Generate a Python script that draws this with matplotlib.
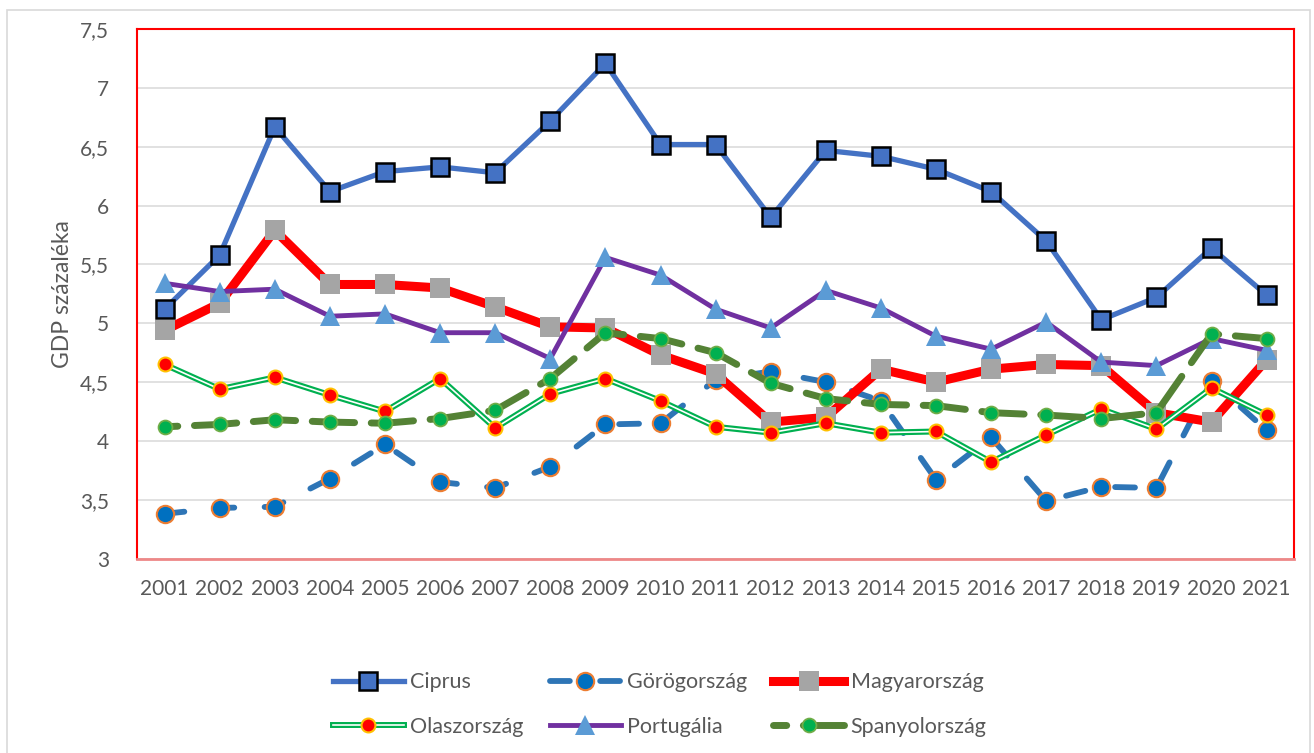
import matplotlib.pyplot as plt
from matplotlib.patches import Rectangle
from matplotlib.legend_handler import HandlerTuple
from matplotlib.ticker import FuncFormatter

plt.rcParams['font.family'] = ['Lato', 'DejaVu Sans']

# data
years = ['2001', '2002', '2003', '2004', '2005', '2006', '2007', '2008', '2009', '2010', '2011',
         '2012', '2013', '2014', '2015', '2016', '2017', '2018', '2019', '2020', '2021']

ciprus = [5.12, 5.58, 6.67, 6.12, 6.29, 6.33, 6.28, 6.72, 7.21, 6.52, 6.52,
          5.90, 6.47, 6.42, 6.31, 6.12, 5.70, 5.03, 5.22, 5.64, 5.24]
gorog = [3.38, 3.43, 3.44, 3.68, 3.97, 3.65, 3.60, 3.78, 4.14, 4.15, 4.52,
         4.59, 4.50, 4.34, 3.67, 4.03, 3.49, 3.61, 3.60, 4.51, 4.09]
magyar = [4.94, 5.17, 5.79, 5.33, 5.33, 5.30, 5.14, 4.97, 4.96, 4.73, 4.57,
          4.16, 4.20, 4.61, 4.50, 4.61, 4.65, 4.64, 4.24, 4.16, 4.69]
olasz = [4.65, 4.44, 4.54, 4.39, 4.25, 4.53, 4.11, 4.40, 4.53, 4.34, 4.12,
         4.07, 4.15, 4.07, 4.08, 3.82, 4.05, 4.27, 4.10, 4.45, 4.22]
portugal = [5.34, 5.27, 5.29, 5.06, 5.08, 4.92, 4.92, 4.70, 5.56, 5.41, 5.12,
            4.96, 5.28, 5.13, 4.89, 4.78, 5.01, 4.67, 4.64, 4.87, 4.77]
spanyol = [4.12, 4.14, 4.18, 4.16, 4.15, 4.19, 4.26, 4.53, 4.92, 4.87, 4.75,
           4.49, 4.36, 4.31, 4.30, 4.24, 4.22, 4.19, 4.24, 4.91, 4.87]

y_ticks = [3, 3.5, 4, 4.5, 5, 5.5, 6, 6.5, 7, 7.5]

x = list(range(len(years)))

fig = plt.figure(figsize=(13.14, 7.53), dpi=100)
ax = fig.add_axes([0.1043, 0.2583, 0.8806, 0.7028])

h1, = ax.plot(x, ciprus, color='#4472C4', lw=3.8, marker='s', ms=12.5,
              mfc='#4472C4', mec='black', mew=1.8, label='Ciprus')
h2, = ax.plot(x, gorog, color='#2E75B6', lw=4.2, dashes=(3.4, 5.2),
              dash_capstyle='round', marker='o', ms=12.5, mfc='#0070C0',
              mec='#ED7D31', mew=1.5, label='Görögország')
h3, = ax.plot(x, magyar, color='#FF0000', lw=6.5, marker='s', ms=15,
              mfc='#A5A5A5', mec='#A5A5A5', mew=0, label='Magyarország')
h4a, = ax.plot(x, olasz, color='#00B050', lw=4.3)
h4b, = ax.plot(x, olasz, color='white', lw=1.2, marker='o', ms=10,
               mfc='#FF0000', mec='#FFC000', mew=1.5)
h5, = ax.plot(x, portugal, color='#7030A0', lw=3.5, marker='^', ms=15,
              mfc='#5B9BD5', mec='#5B9BD5', mew=0, label='Portugália')
h6, = ax.plot(x, spanyol, color='#548235', lw=5, linestyle=(4.2, (6.1, 2.4)),
              dash_capstyle='round', marker='o', ms=10, mfc='#00B050',
              mec='#70AD47', mew=1.3, label='Spanyolország')

ax.set_xlim(-0.5, len(years) - 0.5)
ax.set_ylim(3, 7.5)
ax.set_xticks(x)
ax.set_xticklabels(years)
ax.set_yticks(y_ticks)
ax.yaxis.set_major_formatter(FuncFormatter(lambda v, p: ('%g' % v).replace('.', ',')))
ax.tick_params(axis='both', length=0, labelsize=15, labelcolor='#595959')
ax.tick_params(axis='x', pad=15)
ax.tick_params(axis='y', pad=20)

ax.grid(axis='y', color='#D9D9D9', lw=1.1)
ax.set_axisbelow(True)
for s in ['left', 'right', 'top']:
    ax.spines[s].set_color('#FF0000')
    ax.spines[s].set_linewidth(1.5)
ax.spines['bottom'].set_color('#EE8888')
ax.spines['bottom'].set_linewidth(2)

ax.set_ylabel('GDP százaléka', fontsize=16.5, color='#595959', va='center')
ax.yaxis.set_label_coords(-0.0644, 0.5)

# legend filled row by row
handles = [h1, (h4a, h4b), h2, h5, h3, h6]
labels = ['Ciprus', 'Olaszország', 'Görögország', 'Portugália', 'Magyarország', 'Spanyolország']
fig.legend(handles, labels, loc='center', bbox_to_anchor=(0.502, 0.0644), ncol=3,
           frameon=False, fontsize=15.5, labelcolor='#595959', handlelength=3.3,
           handletextpad=0.3, columnspacing=1.2, labelspacing=1.15,
           handler_map={tuple: HandlerTuple(ndivide=1)})

fig.patches.append(Rectangle((7 / 1314, -0.1), 1303 / 1314, 1 - 10 / 753 + 0.1,
                             transform=fig.transFigure, fill=False,
                             edgecolor='#D9D9D9', lw=1.2))

fig.savefig('out.png', dpi=100)
